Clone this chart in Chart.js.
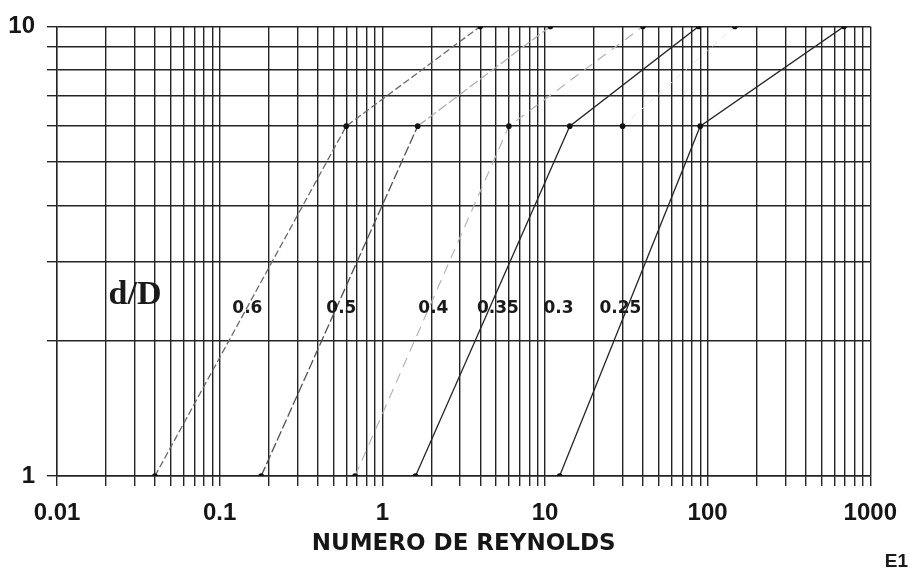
<!DOCTYPE html>
<html>
<head>
<meta charset="utf-8">
<script src="https://cdn.jsdelivr.net/npm/chart.js@4.4.1/dist/chart.umd.min.js"></script>
<style>
  html, body { margin: 0; padding: 0; background: #fff; }
  #wrap { width: 910px; height: 572px; }
</style>
</head>
<body>
<div id="wrap"><canvas id="c" width="910" height="572"></canvas></div>
<script>
// Break points of each d/D curve: Reynolds number (x) against the ratio axis (y)
const curveNames = ['0.6', '0.5', '0.4', '0.35', '0.3', '0.25'];
const reynolds06  = [0.04, 0.6, 4];
const reynolds05  = [0.18, 1.65, 10.8];
const reynolds04  = [0.68, 6, 40];
const reynolds035 = [1.6, 14.2, 88];
const reynolds03  = [30, 147];
const reynolds025 = [12.3, 90, 690];
const levelsFull  = [1, 6, 10];
const levelsUpper = [6, 10];

// Axis decades and their printed labels
const xMajorTicks  = [0.01, 0.1, 1, 10, 100, 1000];
const xMajorLabels = ['0.01', '0.1', '1', '10', '100', '1000'];
const yMajorTicks  = [1, 10];
const yMajorLabels = ['1', '10'];
const mantissas = [1, 2, 3, 4, 5, 6, 7, 8, 9];

// Where each curve's name is written (x in Reynolds units, shared y)
const curveLabelX = [0.148, 0.56, 2.06, 5.14, 12.1, 29.1];
const curveLabelY = 2.36;

const GRID = '#242424';

function points(xs, ys) {
  return xs.map((x, i) => ({ x: x, y: ys[i] }));
}

// log-paper grid: 1..9 in every decade, closing with the top decade
function logGrid(decades) {
  const out = [];
  for (let d = 0; d < decades.length - 1; d++) {
    mantissas.forEach(m => out.push(Number((m * decades[d]).toPrecision(6))));
  }
  out.push(decades[decades.length - 1]);
  return out;
}

function labelFor(value, majors, labels) {
  for (let i = 0; i < majors.length; i++) {
    if (Math.abs(value - majors[i]) < majors[i] * 1e-6) return labels[i];
  }
  return '';
}

const xGridValues = logGrid(xMajorTicks);
const yGridValues = logGrid(yMajorTicks);

const lineStyles = [
  { color: '#6a6a6a', dash: [7, 3], width: 1.3 },
  { color: '#505050', dash: [10, 3], width: 1.3 },
  { color: '#b4b4b4', dash: [10, 7], width: 1.2 },
  { color: '#262626', dash: [], width: 1.3 },
  { color: '#e4e4e4', dash: [6, 6], width: 1.0 },
  { color: '#262626', dash: [], width: 1.3 }
];

const seriesData = [
  points(reynolds06, levelsFull),
  points(reynolds05, levelsFull),
  points(reynolds04, levelsFull),
  points(reynolds035, levelsFull),
  points(reynolds03, levelsUpper),
  points(reynolds025, levelsFull)
];

const datasets = seriesData.map((data, i) => {
  const s = lineStyles[i];
  const ds = {
    label: 'd/D = ' + curveNames[i],
    data: data,
    borderColor: s.color,
    borderWidth: s.width,
    borderDash: s.dash,
    pointRadius: 2.8,
    pointBackgroundColor: '#111',
    pointBorderColor: '#111',
    pointBorderWidth: 0,
    tension: 0,
    fill: false
  };
  if (i === 1) {
    // the upper stretch of the 0.5 curve is printed much lighter
    ds.segment = { borderColor: ctx => ctx.p0DataIndex === 1 ? '#b0b0b0' : undefined };
  }
  return ds;
});

const textPlugin = {
  id: 'curveText',
  afterDatasetsDraw(chart) {
    const { ctx, scales: { x, y } } = chart;
    ctx.save();
    ctx.fillStyle = '#1a1a1a';
    ctx.textAlign = 'center';
    ctx.textBaseline = 'middle';
    ctx.font = 'bold 17px "DejaVu Sans"';
    curveNames.forEach((name, i) => {
      ctx.fillText(name, x.getPixelForValue(curveLabelX[i]), y.getPixelForValue(curveLabelY));
    });
    ctx.font = 'bold 34px "Liberation Serif"';
    ctx.fillText('d/D', x.getPixelForValue(0.0302), y.getPixelForValue(2.52));
    ctx.font = 'bold 19px "Liberation Sans"';
    ctx.textAlign = 'right';
    ctx.fillText('E1', chart.width - 2, chart.height - 10);
    ctx.restore();
  }
};

new Chart(document.getElementById('c'), {
  type: 'line',
  data: { datasets: datasets },
  plugins: [textPlugin],
  options: {
    responsive: false,
    animation: false,
    layout: { padding: { top: 21, right: 34, left: 0, bottom: 0 } },
    plugins: { legend: { display: false }, tooltip: { enabled: false } },
    scales: {
      x: {
        type: 'logarithmic',
        min: 0.01,
        max: 1000,
        afterBuildTicks: scale => { scale.ticks = xGridValues.map(v => ({ value: v })); },
        afterFit: scale => { scale.height = 96; },
        grid: { color: GRID, lineWidth: 1.4, drawTicks: true, tickLength: 10, tickColor: GRID, tickWidth: 1.4 },
        border: { display: true, color: GRID, width: 1.4 },
        ticks: {
          autoSkip: false,
          maxRotation: 0,
          padding: 13,
          color: '#161616',
          font: { family: '"Liberation Sans", Arial, sans-serif', size: 24, weight: 'bold' },
          callback: v => labelFor(v, xMajorTicks, xMajorLabels)
        },
        title: {
          display: true,
          text: 'NUMERO DE REYNOLDS',
          color: '#161616',
          font: { family: '"DejaVu Sans", sans-serif', size: 23, weight: 'bold' },
          padding: { top: 0, bottom: 14 }
        }
      },
      y: {
        type: 'logarithmic',
        min: 1,
        max: 10,
        afterBuildTicks: scale => { scale.ticks = yGridValues.map(v => ({ value: v })); },
        afterFit: scale => { scale.width = 57; },
        grid: { color: GRID, lineWidth: 1.4, drawTicks: true, tickLength: 10, tickColor: GRID, tickWidth: 1.4 },
        border: { display: true, color: GRID, width: 1.4 },
        ticks: {
          autoSkip: false,
          padding: 12,
          color: '#161616',
          font: { family: '"Liberation Sans", Arial, sans-serif', size: 24, weight: 'bold' },
          callback: v => labelFor(v, yMajorTicks, yMajorLabels)
        }
      }
    }
  }
});
</script>
</body>
</html>
